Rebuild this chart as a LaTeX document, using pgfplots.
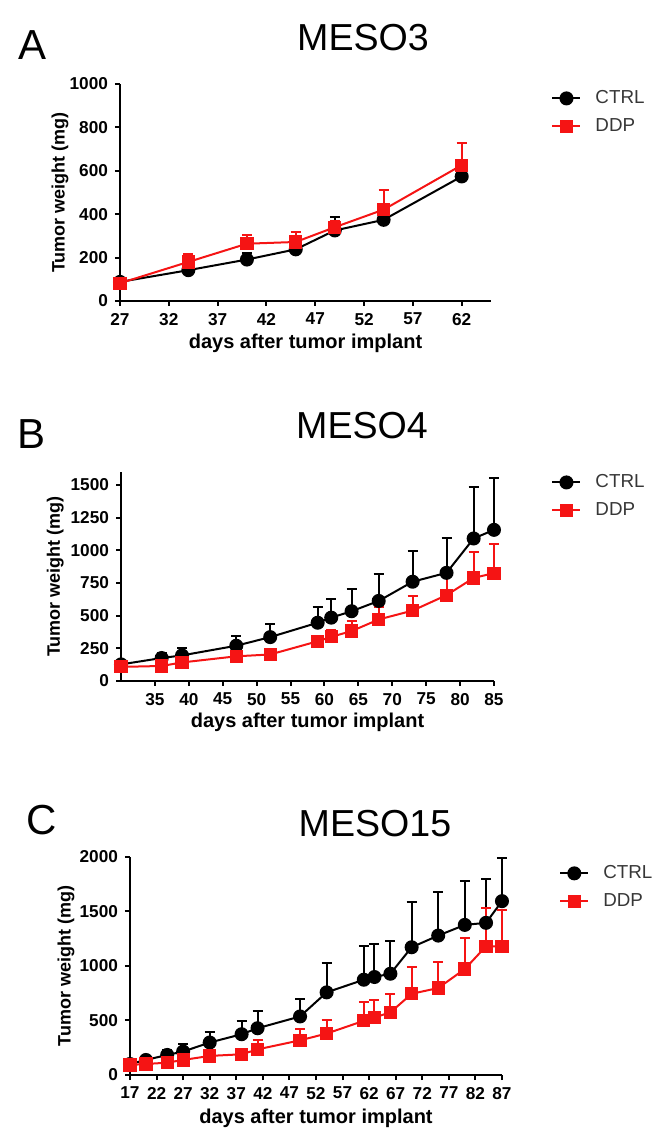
\documentclass[border=0pt]{standalone}
\usepackage{fontspec}
\setmainfont{Liberation Sans}
\usepackage{pgfplots}
\pgfplotsset{compat=1.18}
\definecolor{ddpred}{RGB}{245,20,20}
\definecolor{legtext}{RGB}{55,55,55}

\pgfplotsset{
  meso/.style={
    scale only axis,
    axis lines*=left,
    axis line style={line width=1.2pt,-},
    tick align=outside,
    major tick length=2.5pt,
    every tick/.style={line width=1pt,black},
    tick label style={font=\bfseries\fontsize{8.6}{9}\selectfont},
    /pgf/number format/assume math mode=true,
    /pgf/number format/1000 sep={},
    scaled ticks=false,
    clip=false,
    xlabel={days after tumor implant},
    ylabel={Tumor weight (mg)},
    xlabel style={font=\bfseries\fontsize{10}{12}\selectfont,anchor=center},
    ylabel style={font=\bfseries\fontsize{9}{10}\selectfont,anchor=center},
    legend style={draw=none,fill=none,anchor=north west,inner sep=0pt,
      font=\fontsize{9.4}{11}\selectfont,text=legtext,
      nodes={text height=7pt,text depth=2pt,inner sep=2.5pt},
      /tikz/every odd column/.append style={column sep=4.5pt}},
    legend cell align=left,
    legend image code/.code={\draw[mark repeat=2,mark phase=2,##1] plot coordinates {(0pt,0pt) (7pt,0pt) (14pt,0pt)};},
  },
  ctrl/.style={black,line width=1pt,mark=*,mark size=3pt,mark options={solid,fill=black},
    error bars/.cd,y dir=plus,y explicit,error bar style={line width=1pt,black},
    error mark options={rotate=90,line width=1pt,mark size=2.5pt,black}},
  ddp/.style={ddpred,line width=1pt,mark=square*,mark size=2.8pt,mark options={solid,fill=ddpred},
    error bars/.cd,y dir=plus,y explicit,error bar style={line width=1pt,ddpred},
    error mark options={rotate=90,line width=1pt,mark size=2.5pt,ddpred}},
}

\begin{document}
\begin{tikzpicture}
\path[use as bounding box] (0,0) rectangle (329.5pt,571pt);

% ---------- Panel A ----------
\begin{axis}[meso,
  at={(60pt,420.5pt)},anchor=south west,
  width=185.5pt,height=108.5pt,
  xmin=27,xmax=65,ymin=0,ymax=1000,
  xtick={27,32,...,62},ytick={0,200,...,1000},
  xlabel style={at={(axis description cs:0.5,-0.194)}},
  ylabel style={at={(axis description cs:-0.162,0.5)}},
  legend style={at={(1.162,1.0)}}]
\addplot[ctrl] coordinates {
 (27,88) +- (0,13) (34,142) +- (0,38) (40,191) +- (0,32) (45,238) +- (0,54)
 (49,325) +- (0,61) (54,374) +- (0,66) (62,574) +- (0,75)};
\addlegendentry{CTRL}
\addplot[ddp] coordinates {
 (27,82) +- (0,10) (34,180) +- (0,35) (40,264) +- (0,40) (45,272) +- (0,47)
 (49,340) +- (0,30) (54,421) +- (0,92) (62,626) +- (0,100)};
\addlegendentry{DDP}
\end{axis}

% ---------- Panel B ----------
\begin{axis}[meso,
  at={(60.5pt,230.5pt)},anchor=south west,
  width=186.5pt,height=104.5pt,
  xmin=30,xmax=85,ymin=0,ymax=1600,
  xtick={35,40,...,85},ytick={0,250,...,1500},
  xlabel style={at={(axis description cs:0.5,-0.199)}},
  ylabel style={at={(axis description cs:-0.176,0.5)}},
  legend style={at={(1.153,1.019)}}]
\addplot[ctrl] coordinates {
 (30,127) +- (0,25) (36,176) +- (0,40) (39,196) +- (0,56) (47,270) +- (0,78)
 (52,336) +- (0,100) (59,446) +- (0,123) (61,485) +- (0,145) (64,534) +- (0,172)
 (68,613) +- (0,208) (73,760) +- (0,238) (78,828) +- (0,268) (82,1091) +- (0,394)
 (85,1157) +- (0,399)};
\addlegendentry{CTRL}
\addplot[ddp] coordinates {
 (30,108) +- (0,8) (36,115) +- (0,10) (39,142) +- (0,10) (47,189) +- (0,15)
 (52,203) +- (0,12) (59,304) +- (0,40) (61,338) +- (0,54) (64,382) +- (0,76)
 (68,471) +- (0,93) (73,539) +- (0,115) (78,657) +- (0,150) (82,789) +- (0,201)
 (85,826) +- (0,221)};
\addlegendentry{DDP}
\end{axis}

% ---------- Panel C ----------
\begin{axis}[meso,
  at={(65pt,33.5pt)},anchor=south west,
  width=186pt,height=109pt,
  xmin=17,xmax=87,ymin=0,ymax=2000,
  xtick={17,22,...,87},ytick={0,500,...,2000},
  xlabel style={at={(axis description cs:0.5,-0.197)}},
  ylabel style={at={(axis description cs:-0.172,0.5)}},
  legend style={at={(1.153,0.991)}}]
\addplot[ctrl] coordinates {
 (17,101) +- (0,20) (20,138) +- (0,31) (24,184) +- (0,46) (27,215) +- (0,70)
 (32,298) +- (0,100) (38,374) +- (0,124) (41,429) +- (0,161) (49,537) +- (0,160)
 (54,758) +- (0,270) (61,874) +- (0,307) (63,899) +- (0,303) (66,929) +- (0,304)
 (70,1172) +- (0,414) (75,1279) +- (0,402) (80,1377) +- (0,399) (84,1396) +- (0,405)
 (87,1595) +- (0,396)};
\addlegendentry{CTRL}
\addplot[ddp] coordinates {
 (17,92) +- (0,10) (20,101) +- (0,14) (24,113) +- (0,22) (27,138) +- (0,22)
 (32,175) +- (0,25) (38,190) +- (0,30) (41,235) +- (0,85) (49,318) +- (0,100)
 (54,380) +- (0,127) (61,497) +- (0,169) (63,528) +- (0,156) (66,574) +- (0,168)
 (70,745) +- (0,243) (75,798) +- (0,242) (80,972) +- (0,286) (84,1181) +- (0,353)
 (87,1181) +- (0,337)};
\addlegendentry{DDP}
\end{axis}

% ---------- titles and panel letters ----------
\node[font=\fontsize{18.8}{20}\selectfont] at (181.5pt,552pt) {MESO3};
\node[font=\fontsize{21}{22}\selectfont] at (16.5pt,548.5pt) {A};
\node[font=\fontsize{18.8}{20}\selectfont] at (181pt,358pt) {MESO4};
\node[font=\fontsize{21}{22}\selectfont] at (16pt,354pt) {B};
\node[font=\fontsize{18.8}{20}\selectfont] at (187.5pt,159pt) {MESO15};
\node[font=\fontsize{21}{22}\selectfont] at (21pt,161pt) {C};
\end{tikzpicture}
\end{document}
